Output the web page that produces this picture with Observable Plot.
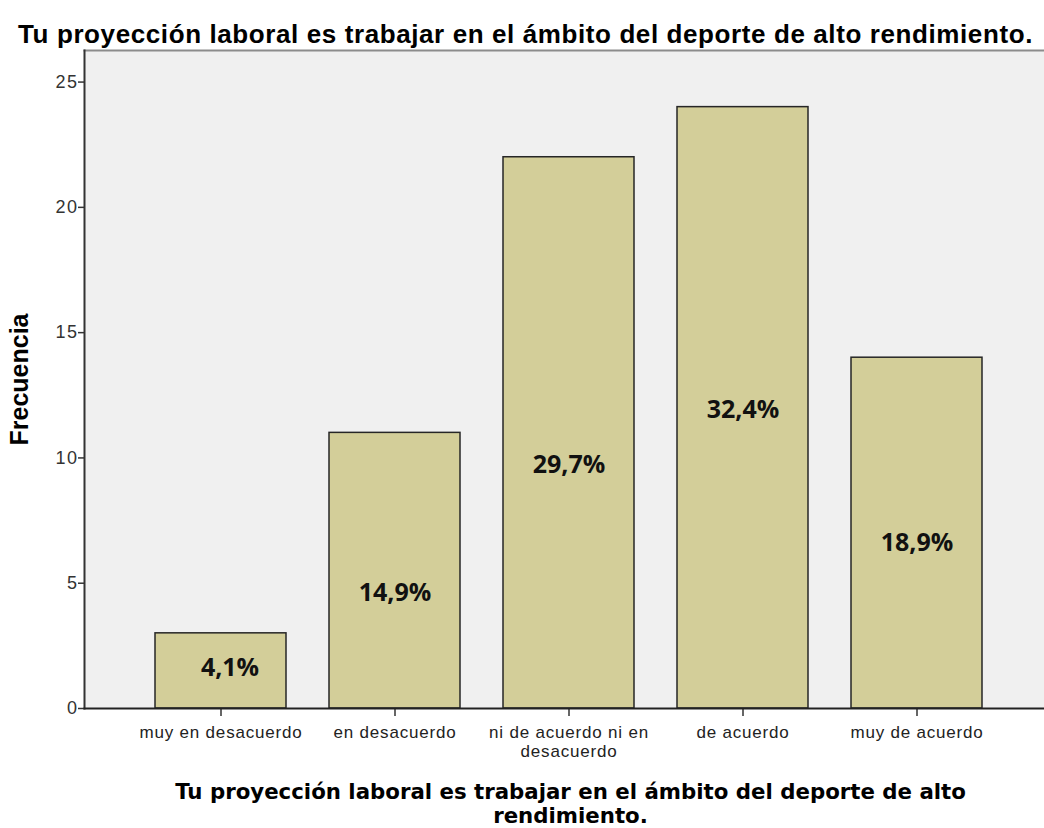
<!DOCTYPE html>
<html><head><meta charset="utf-8">
<script src="https://cdn.jsdelivr.net/npm/d3@7"></script>
<script src="https://cdn.jsdelivr.net/npm/@observablehq/plot@0.6"></script>
<style>
html,body{margin:0;padding:0;background:#fff;overflow:hidden} svg{display:block}
g[aria-label="y-axis tick label"] text{letter-spacing:1.5px}
g[aria-label="x-axis tick label"] text{letter-spacing:0.8px}
</style>
</head><body><div id="chart"></div>
<script>
const categories = ["muy en desacuerdo", "en desacuerdo", "ni de acuerdo ni en desacuerdo", "de acuerdo", "muy de acuerdo"];
const tickLabels = ["muy en desacuerdo", "en desacuerdo", "ni de acuerdo ni en\ndesacuerdo", "de acuerdo", "muy de acuerdo"];
const frequencies = [3, 11, 22, 24, 14];
const percentLabels = ["4,1%", "14,9%", "29,7%", "32,4%", "18,9%"];
const labelHeights = [1.6, 4.6, 9.7, 11.9, 6.6];
const yTicks = [0, 5, 10, 15, 20, 25];
const yMax = 26.26;
const title = "Tu proyección laboral es trabajar en el ámbito del deporte de alto rendimiento.";
const xTitle = "Tu proyección laboral es trabajar en el ámbito del deporte de alto\nrendimiento.";
const yTitle = "Frecuencia";

const rows = categories.map((c, i) => ({category: c, value: frequencies[i], pct: percentLabels[i], ly: labelHeights[i]}));

const chart = Plot.plot({
  width: 1044, height: 828,
  marginLeft: 84, marginRight: 0, marginTop: 50, marginBottom: 120,
  style: {fontFamily: "'Liberation Sans', Arial, sans-serif", background: "#fff", color: "#222", overflow: "hidden"},
  x: {domain: categories, range: [84, 1052.5], paddingInner: 0.247, paddingOuter: 0.397, align: 0.5},
  y: {domain: [0, yMax]},
  marks: [
    Plot.frame({fill: "#f0f0f0", stroke: null}),
    Plot.frame({anchor: "top", stroke: "#8c8c8c", strokeWidth: 2}),
    Plot.barY(rows, {x: "category", y: "value", fill: "#d3ce99", stroke: "#262626", strokeWidth: 1.5}),
    Plot.text(rows.slice(0, 1), {x: "category", y: "ly", text: "pct", dx: 9, fontFamily: "'Open Sans', sans-serif", fontWeight: 700, fontSize: 25, fill: "#111"}),
    Plot.text(rows.slice(1), {x: "category", y: "ly", text: "pct", fontFamily: "'Open Sans', sans-serif", fontWeight: 700, fontSize: 25, fill: "#111"}),
    Plot.axisY({ticks: yTicks, tickSize: 6, tickPadding: 0, fontSize: 18, stroke: "#333", fill: "#333", strokeWidth: 1.5, label: null}),
    Plot.axisX({tickSize: 8, tickPadding: 8, fontSize: 17, lineHeight: 1.12, stroke: "#333", fill: "#222", strokeWidth: 1.5, label: null,
      tickFormat: d => tickLabels[categories.indexOf(d)]}),
    Plot.frame({anchor: "left", stroke: "#333", strokeWidth: 2}),
    Plot.frame({anchor: "bottom", stroke: "#222", strokeWidth: 2}),
    Plot.text([title], {frameAnchor: "top", dy: -26, dx: -39, text: d => d, fontSize: 26, fontWeight: "bold", fill: "#000"}),
    Plot.text([yTitle], {frameAnchor: "left", rotate: -90, dx: -65, textAnchor: "middle", text: d => d, fontSize: 25, fontWeight: "bold", fill: "#000"}),
    Plot.text([xTitle], {frameAnchor: "bottom", dx: 6, dy: 74, lineAnchor: "top", lineHeight: 1.1, text: d => d,
      fontFamily: "'DejaVu Sans', sans-serif", fontSize: 21.3, fontWeight: "bold", fill: "#000"})
  ]
});
document.getElementById("chart").appendChild(chart);
d3.select(chart).selectAll("text")
  .filter(function () { return this.textContent === title; })
  .style("letter-spacing", "0.6px");
</script>
</body></html>
